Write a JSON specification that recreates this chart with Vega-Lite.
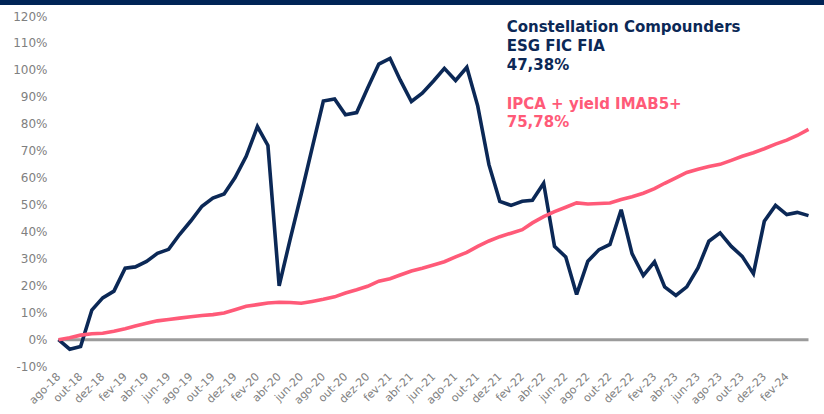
{
  "$schema": "https://vega.github.io/schema/vega-lite/v6.json",
  "width": 750,
  "height": 350.7,
  "autosize": {"type": "none"},
  "padding": {"left": 58.5, "top": 16, "right": 15.5, "bottom": 47.3},
  "background": "white",
  "config": {"view": {"stroke": null}, "font": "DejaVu Sans"},
  "data": {"values": [
    {"d": "2018-08-01", "fundo": 0, "ipca": 0},
    {"d": "2018-09-01", "fundo": -3.5, "ipca": 0.7},
    {"d": "2018-10-01", "fundo": -2.5, "ipca": 1.7},
    {"d": "2018-11-01", "fundo": 11, "ipca": 2.2},
    {"d": "2018-12-01", "fundo": 15.5, "ipca": 2.4},
    {"d": "2019-01-01", "fundo": 18, "ipca": 3.1},
    {"d": "2019-02-01", "fundo": 26.5, "ipca": 4.1},
    {"d": "2019-03-01", "fundo": 27, "ipca": 5.1},
    {"d": "2019-04-01", "fundo": 29, "ipca": 6.1},
    {"d": "2019-05-01", "fundo": 32, "ipca": 7.0},
    {"d": "2019-06-01", "fundo": 33.5, "ipca": 7.5},
    {"d": "2019-07-01", "fundo": 39, "ipca": 8.0},
    {"d": "2019-08-01", "fundo": 44, "ipca": 8.5},
    {"d": "2019-09-01", "fundo": 49.5, "ipca": 9.0},
    {"d": "2019-10-01", "fundo": 52.5, "ipca": 9.3},
    {"d": "2019-11-01", "fundo": 54, "ipca": 9.9},
    {"d": "2019-12-01", "fundo": 60, "ipca": 11.1},
    {"d": "2020-01-01", "fundo": 68, "ipca": 12.4},
    {"d": "2020-02-01", "fundo": 79, "ipca": 13.0},
    {"d": "2020-03-01", "fundo": 72, "ipca": 13.6},
    {"d": "2020-04-01", "fundo": 20, "ipca": 13.9},
    {"d": "2020-05-01", "fundo": 37, "ipca": 13.8},
    {"d": "2020-06-01", "fundo": 54, "ipca": 13.5},
    {"d": "2020-07-01", "fundo": 71, "ipca": 14.2},
    {"d": "2020-08-01", "fundo": 88.5, "ipca": 15.0},
    {"d": "2020-09-01", "fundo": 89.2, "ipca": 15.9},
    {"d": "2020-10-01", "fundo": 83.4, "ipca": 17.3},
    {"d": "2020-11-01", "fundo": 84.2, "ipca": 18.5},
    {"d": "2020-12-01", "fundo": 93.2, "ipca": 19.8},
    {"d": "2021-01-01", "fundo": 102.2, "ipca": 21.7},
    {"d": "2021-02-01", "fundo": 104.3, "ipca": 22.6},
    {"d": "2021-03-01", "fundo": 96.3, "ipca": 24.0},
    {"d": "2021-04-01", "fundo": 88.3, "ipca": 25.5},
    {"d": "2021-05-01", "fundo": 91.4, "ipca": 26.5},
    {"d": "2021-06-01", "fundo": 95.9, "ipca": 27.7},
    {"d": "2021-07-01", "fundo": 100.6, "ipca": 28.9},
    {"d": "2021-08-01", "fundo": 96.1, "ipca": 30.7},
    {"d": "2021-09-01", "fundo": 101, "ipca": 32.4},
    {"d": "2021-10-01", "fundo": 86.7, "ipca": 34.6},
    {"d": "2021-11-01", "fundo": 64.9, "ipca": 36.6},
    {"d": "2021-12-01", "fundo": 51.3, "ipca": 38.2},
    {"d": "2022-01-01", "fundo": 49.8, "ipca": 39.5},
    {"d": "2022-02-01", "fundo": 51.3, "ipca": 40.8},
    {"d": "2022-03-01", "fundo": 51.7, "ipca": 43.3},
    {"d": "2022-04-01", "fundo": 58, "ipca": 45.6},
    {"d": "2022-05-01", "fundo": 34.6, "ipca": 47.5},
    {"d": "2022-06-01", "fundo": 30.7, "ipca": 49.1},
    {"d": "2022-07-01", "fundo": 16.8, "ipca": 50.7},
    {"d": "2022-08-01", "fundo": 29.1, "ipca": 50.3},
    {"d": "2022-09-01", "fundo": 33.4, "ipca": 50.5},
    {"d": "2022-10-01", "fundo": 35.3, "ipca": 50.7},
    {"d": "2022-11-01", "fundo": 48.2, "ipca": 52.0},
    {"d": "2022-12-01", "fundo": 31.9, "ipca": 53.0},
    {"d": "2023-01-01", "fundo": 23.8, "ipca": 54.3},
    {"d": "2023-02-01", "fundo": 28.9, "ipca": 56.0},
    {"d": "2023-03-01", "fundo": 19.6, "ipca": 58.0},
    {"d": "2023-04-01", "fundo": 16.4, "ipca": 60.0},
    {"d": "2023-05-01", "fundo": 19.6, "ipca": 62.0},
    {"d": "2023-06-01", "fundo": 26.6, "ipca": 63.2},
    {"d": "2023-07-01", "fundo": 36.5, "ipca": 64.2},
    {"d": "2023-08-01", "fundo": 39.6, "ipca": 65.0},
    {"d": "2023-09-01", "fundo": 34.6, "ipca": 66.5},
    {"d": "2023-10-01", "fundo": 30.9, "ipca": 68.0},
    {"d": "2023-11-01", "fundo": 24.5, "ipca": 69.3},
    {"d": "2023-12-01", "fundo": 43.9, "ipca": 70.8},
    {"d": "2024-01-01", "fundo": 49.8, "ipca": 72.5},
    {"d": "2024-02-01", "fundo": 46.4, "ipca": 74.0},
    {"d": "2024-03-01", "fundo": 47.2, "ipca": 75.7},
    {"d": "2024-04-01", "fundo": 46, "ipca": 78.0}
  ]},
  "layer": [
    {
      "data": {"values": [{}]},
      "mark": {"type": "rule", "color": "#9b9b9b", "strokeWidth": 3},
      "encoding": {"y": {"datum": 0, "type": "quantitative"}}
    },
    {
      "transform": [{"fold": ["fundo", "ipca"], "as": ["serie", "valor"]}],
      "mark": {"type": "line", "strokeWidth": 3.6, "strokeJoin": "miter", "strokeMiterLimit": 3},
      "encoding": {
        "x": {
          "field": "d", "type": "temporal",
          "scale": {"type": "utc", "nice": false, "domain": [{"year": 2018, "month": 8, "date": 1, "utc": true}, {"year": 2024, "month": 4, "date": 1, "utc": true}]},
          "axis": {
            "title": null, "grid": false, "domain": false, "ticks": false,
            "tickCount": 200,
            "labelAngle": -45, "labelAlign": "right", "labelBaseline": "middle",
            "labelFontSize": 11, "labelColor": "#808080", "labelPadding": 8,
            "labelOverlap": false, "labelFlush": false, "labelBound": false,
            "labelExpr": "['jan','fev','mar','abr','mai','jun','jul','ago','set','out','nov','dez'][utcmonth(datum.value)] + '-' + utcFormat(datum.value, '%y')",
            "values": [
              {"year": 2018, "month": 8, "date": 1, "utc": true},
              {"year": 2018, "month": 10, "date": 1, "utc": true},
              {"year": 2018, "month": 12, "date": 1, "utc": true},
              {"year": 2019, "month": 2, "date": 1, "utc": true},
              {"year": 2019, "month": 4, "date": 1, "utc": true},
              {"year": 2019, "month": 6, "date": 1, "utc": true},
              {"year": 2019, "month": 8, "date": 1, "utc": true},
              {"year": 2019, "month": 10, "date": 1, "utc": true},
              {"year": 2019, "month": 12, "date": 1, "utc": true},
              {"year": 2020, "month": 2, "date": 1, "utc": true},
              {"year": 2020, "month": 4, "date": 1, "utc": true},
              {"year": 2020, "month": 6, "date": 1, "utc": true},
              {"year": 2020, "month": 8, "date": 1, "utc": true},
              {"year": 2020, "month": 10, "date": 1, "utc": true},
              {"year": 2020, "month": 12, "date": 1, "utc": true},
              {"year": 2021, "month": 2, "date": 1, "utc": true},
              {"year": 2021, "month": 4, "date": 1, "utc": true},
              {"year": 2021, "month": 6, "date": 1, "utc": true},
              {"year": 2021, "month": 8, "date": 1, "utc": true},
              {"year": 2021, "month": 10, "date": 1, "utc": true},
              {"year": 2021, "month": 12, "date": 1, "utc": true},
              {"year": 2022, "month": 2, "date": 1, "utc": true},
              {"year": 2022, "month": 4, "date": 1, "utc": true},
              {"year": 2022, "month": 6, "date": 1, "utc": true},
              {"year": 2022, "month": 8, "date": 1, "utc": true},
              {"year": 2022, "month": 10, "date": 1, "utc": true},
              {"year": 2022, "month": 12, "date": 1, "utc": true},
              {"year": 2023, "month": 2, "date": 1, "utc": true},
              {"year": 2023, "month": 4, "date": 1, "utc": true},
              {"year": 2023, "month": 6, "date": 1, "utc": true},
              {"year": 2023, "month": 8, "date": 1, "utc": true},
              {"year": 2023, "month": 10, "date": 1, "utc": true},
              {"year": 2023, "month": 12, "date": 1, "utc": true},
              {"year": 2024, "month": 2, "date": 1, "utc": true}
            ]
          }
        },
        "y": {
          "field": "valor", "type": "quantitative",
          "scale": {"domain": [-10, 120], "nice": false, "zero": false},
          "axis": {
            "title": null, "domain": false, "ticks": false,
            "tickCount": 100,
            "values": [-10, 0, 10, 20, 30, 40, 50, 60, 70, 80, 90, 100, 110, 120],
            "labelExpr": "datum.value + '%'",
            "labelOverlap": false, "labelBound": false, "labelFlush": false,
            "labelFontSize": 12, "labelColor": "#808080", "labelPadding": 11.5,
            "gridColor": "#d9d9d9", "gridWidth": 1
          }
        },
        "color": {
          "field": "serie", "type": "nominal",
          "scale": {"domain": ["fundo", "ipca"], "range": ["#0b2856", "#ff5a78"]},
          "legend": null
        }
      }
    },
    {
      "data": {"values": [{}]},
      "mark": {"type": "rect", "color": "white"},
      "encoding": {
        "x": {"datum": {"year": 2021, "month": 11, "date": 18, "utc": true}, "type": "temporal"},
        "x2": {"datum": {"year": 2023, "month": 12, "date": 6, "utc": true}},
        "y": {"datum": 74, "type": "quantitative"},
        "y2": {"datum": 121}
      }
    },
    {
      "data": {"values": [{}]},
      "mark": {"type": "rect", "color": "#002456"},
      "encoding": {
        "x": {"datum": {"year": 2017, "month": 1, "date": 1, "utc": true}, "type": "temporal"},
        "x2": {"datum": {"year": 2025, "month": 6, "date": 1, "utc": true}},
        "y": {"datum": 124.1, "type": "quantitative"},
        "y2": {"datum": 135}
      }
    },
    {
      "data": {"values": [{}]},
      "mark": {"type": "text", "text": "Constellation Compounders", "font": "DejaVu Sans", "fontSize": 15, "fontWeight": "bold", "color": "#0b2856", "align": "left", "baseline": "alphabetic"},
      "encoding": {"x": {"datum": {"year": 2021, "month": 12, "date": 20, "utc": true}, "type": "temporal"}, "y": {"datum": 114.2, "type": "quantitative"}}
    },
    {
      "data": {"values": [{}]},
      "mark": {"type": "text", "text": "ESG FIC FIA", "font": "DejaVu Sans", "fontSize": 15, "fontWeight": "bold", "color": "#0b2856", "align": "left", "baseline": "alphabetic"},
      "encoding": {"x": {"datum": {"year": 2021, "month": 12, "date": 20, "utc": true}, "type": "temporal"}, "y": {"datum": 107.0, "type": "quantitative"}}
    },
    {
      "data": {"values": [{}]},
      "mark": {"type": "text", "text": "47,38%", "font": "DejaVu Sans", "fontSize": 15, "fontWeight": "bold", "color": "#0b2856", "align": "left", "baseline": "alphabetic"},
      "encoding": {"x": {"datum": {"year": 2021, "month": 12, "date": 20, "utc": true}, "type": "temporal"}, "y": {"datum": 100.0, "type": "quantitative"}}
    },
    {
      "data": {"values": [{}]},
      "mark": {"type": "text", "text": "IPCA + yield IMAB5+", "font": "DejaVu Sans", "fontSize": 15, "fontWeight": "bold", "color": "#ff5a78", "align": "left", "baseline": "alphabetic"},
      "encoding": {"x": {"datum": {"year": 2021, "month": 12, "date": 20, "utc": true}, "type": "temporal"}, "y": {"datum": 85.7, "type": "quantitative"}}
    },
    {
      "data": {"values": [{}]},
      "mark": {"type": "text", "text": "75,78%", "font": "DejaVu Sans", "fontSize": 15, "fontWeight": "bold", "color": "#ff5a78", "align": "left", "baseline": "alphabetic"},
      "encoding": {"x": {"datum": {"year": 2021, "month": 12, "date": 20, "utc": true}, "type": "temporal"}, "y": {"datum": 79.0, "type": "quantitative"}}
    }
  ]
}
